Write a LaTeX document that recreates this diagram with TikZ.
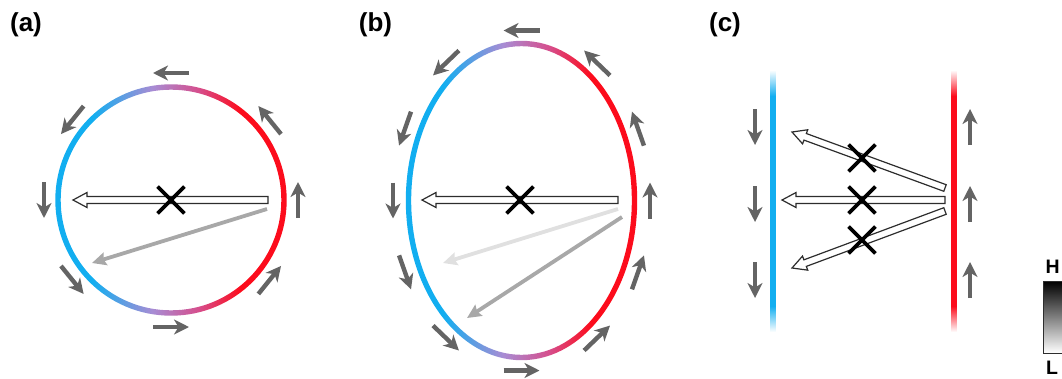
\documentclass[tikz,border=0pt]{standalone}
\usepackage{fontspec}
\setmainfont{Liberation Sans}
\usetikzlibrary{
  arrows.meta,
  positioning,
  calc,
  shapes.misc
}
\definecolor{WallBlue}{RGB}{18,174,240}
\definecolor{WallRed}{RGB}{252,12,28}
\definecolor{WallMix}{RGB}{168,140,212}
\definecolor{WallPink}{RGB}{214,78,140}
\definecolor{FlowGray}{RGB}{100,100,100}
\definecolor{RayGray}{RGB}{168,168,168}
\definecolor{RayPale}{RGB}{224,224,224}
\definecolor{EdgeDark}{RGB}{45,45,45}
\pgfdeclarehorizontalshading{wallshade}{100bp}{
  color(0bp)=(WallBlue); color(33bp)=(WallBlue); color(46bp)=(WallMix);
  color(56bp)=(WallPink); color(65bp)=(WallRed); color(100bp)=(WallRed)}
\tikzset{
  panel/.style={font=\bfseries\fontsize{26}{30}\selectfont, inner sep=0pt},
  scalelabel/.style={font=\bfseries\fontsize{19.5}{22}\selectfont, inner sep=0pt, anchor=base west},
  flow/.style={-{Stealth[length=15pt,width=15pt,inset=4.5pt]}, line width=4.4pt, draw=FlowGray},
  ray/.style={-{Stealth[length=14pt,width=13pt,inset=2pt]}, line width=3.8pt, draw=RayGray},
  paleray/.style={ray, draw=RayPale},
  crossmark/.style={cross out, draw=black, line width=3.8pt, minimum size=23pt, inner sep=0pt},
  blocked/.style={draw=EdgeDark, fill=white, line width=1.2pt, line join=miter,
    to path={
      ($(\tikztostart)!3.5pt!90:(\tikztotarget)$)
      -- ($(\tikztotarget)!14pt!(\tikztostart)!3.5pt!90:(\tikztotarget)$)
      -- ($(\tikztotarget)!14pt!(\tikztostart)!7.5pt!90:(\tikztotarget)$)
      -- (\tikztotarget)
      -- ($(\tikztotarget)!14pt!(\tikztostart)!7.5pt!-90:(\tikztotarget)$)
      -- ($(\tikztotarget)!14pt!(\tikztostart)!3.5pt!-90:(\tikztotarget)$)
      -- ($(\tikztostart)!3.5pt!-90:(\tikztotarget)$) -- cycle}}
}

\begin{document}
\begin{tikzpicture}[x=1pt, y=-1pt]
  \useasboundingbox (0,0) rectangle (1062,378);

  % (a) circular wall
  \node[panel] (lbla) at (26,25) {(a)};
  \coordinate (ca) at (171,200);
  \shade[shading=wallshade, even odd rule] (ca) circle[radius=115.7] circle[radius=110.3];
  \foreach \a in {-90,-141,180,141,90,39,0,-39}
    \draw[flow] ($(ca)+(\a:127)+(\a+90:18)$) -- ($(ca)+(\a:127)+(\a-90:18)$);
  \coordinate (ta) at (268,200);
  \coordinate (ha) at (73,200);
  \draw[blocked] (ta) to (ha);
  \coordinate (ra1) at (267,209);
  \coordinate (ra2) at (92,263);
  \draw[ray] (ra1) -- (ra2);
  \node[crossmark] (xa) at (ca) {};

  % (b) elliptic wall
  \node[panel] (lblb) at (375.5,25) {(b)};
  \coordinate (cb) at (521.5,200.5);
  \shade[shading=wallshade, even odd rule] (cb) ellipse[x radius=115.7, y radius=159.7]
    ellipse[x radius=110.3, y radius=154.3];
  \foreach \t in {-90,-126,-155,180,155,126,90,54,25,0,-25,-54} {
    \coordinate (p) at ($(cb)+({128.5*cos(\t)},{170*sin(\t)})$);
    \coordinate (q) at ($(p)+({128.5*sin(\t)},{-170*cos(\t)})$);
    \draw[flow] ($(p)!-18pt!(q)$) -- ($(p)!18pt!(q)$);
  }
  \coordinate (tb) at (618,200);
  \coordinate (hb) at (422,200);
  \draw[blocked] (tb) to (hb);
  \coordinate (rb1) at (618,209);
  \coordinate (rb2) at (443,263);
  \coordinate (rb3) at (622,217);
  \coordinate (rb4) at (467,318);
  \draw[paleray] (rb1) -- (rb2);
  \draw[ray] (rb3) -- (rb4);
  \node[crossmark] (xb) at (520,200) {};

  % (c) straight walls
  \node[panel] (lblc) at (725,25) {(c)};
  \foreach \x/\c in {773/WallBlue, 954/WallRed} {
    \shade[top color=white, bottom color=\c] ({\x-2.7},70) rectangle ({\x+2.7},96);
    \fill[\c] ({\x-2.7},95.5) rectangle ({\x+2.7},306.5);
    \shade[top color=\c, bottom color=white] ({\x-2.7},306) rectangle ({\x+2.7},332);
  }
  \foreach \y in {127,204,280} {
    \draw[flow] (755,{\y-18}) -- (755,{\y+18});
    \draw[flow] (970,{\y+18}) -- (970,{\y-18});
  }
  \coordinate (tc1) at (945,188);
  \coordinate (hc1) at (792,132);
  \coordinate (tc2) at (945,200);
  \coordinate (hc2) at (782,200);
  \coordinate (tc3) at (945,211);
  \coordinate (hc3) at (792,268);
  \draw[blocked] (tc1) to (hc1);
  \draw[blocked] (tc2) to (hc2);
  \draw[blocked] (tc3) to (hc3);
  \node[crossmark] (xc1) at (862,158) {};
  \node[crossmark] (xc2) at (862,200) {};
  \node[crossmark] (xc3) at (862,240) {};

  % intensity scale
  \node[scalelabel] (hi) at (1045.5,273) {H};
  \shade[top color=black, bottom color=white, draw=EdgeDark, line width=0.8pt]
    (1043,281) rectangle (1080,353);
  \node[scalelabel] (lo) at (1046,374) {L};
\end{tikzpicture}
\end{document}
